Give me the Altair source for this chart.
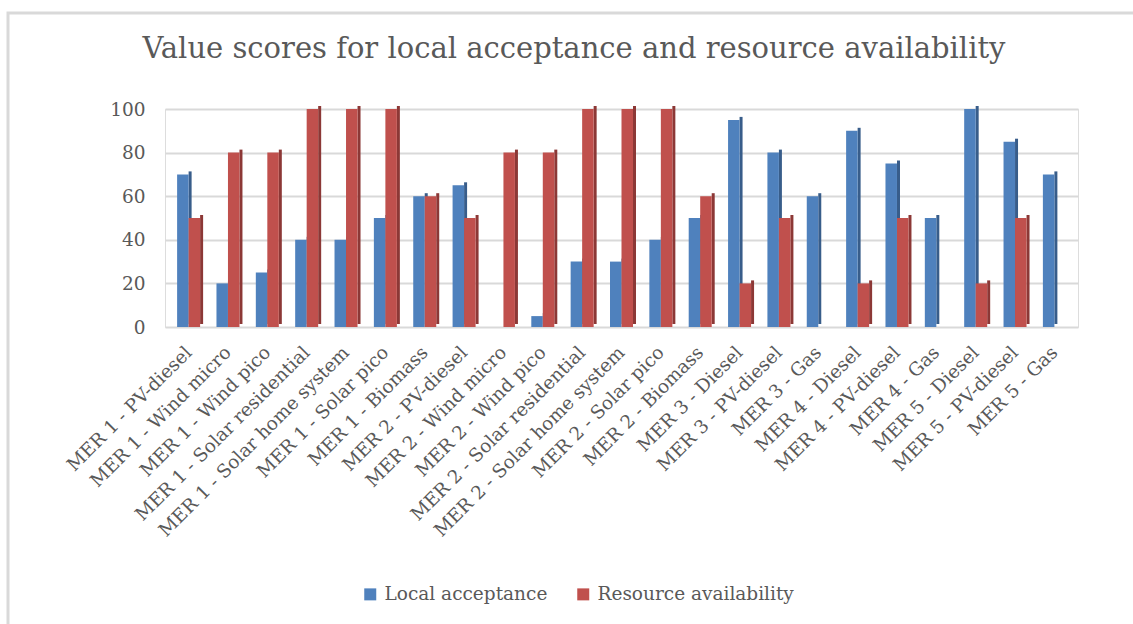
import altair as alt
import pandas as pd

categories = [
    "MER 1 - PV-diesel", "MER 1 - Wind micro", "MER 1 - Wind pico",
    "MER 1 - Solar residential", "MER 1 - Solar home system", "MER 1 - Solar pico",
    "MER 1 - Biomass", "MER 2 - PV-diesel", "MER 2 - Wind micro", "MER 2 - Wind pico",
    "MER 2 - Solar residential", "MER 2 - Solar home system", "MER 2 - Solar pico",
    "MER 2 - Biomass", "MER 3 - Diesel", "MER 3 - PV-diesel", "MER 3 - Gas",
    "MER 4 - Diesel", "MER 4 - PV-diesel", "MER 4 - Gas",
    "MER 5 - Diesel", "MER 5 - PV-diesel", "MER 5 - Gas",
]
local_acceptance = [70, 20, 25, 40, 40, 50, 60, 65, 0, 5, 30, 30, 40, 50, 95, 80, 60, 90, 75, 50, 100, 85, 70]
resource_availability = [50, 80, 80, 100, 100, 100, 60, 50, 80, 80, 100, 100, 100, 60, 20, 50, 0, 20, 50, 0, 20, 50, 0]
series_names = ["Local acceptance", "Resource availability"]
y_ticks = [0, 20, 40, 60, 80, 100]
title_text = "Value scores for local acceptance and resource availability"

rows = []
for c, a, r in zip(categories, local_acceptance, resource_availability):
    rows.append({"category": c, "series": series_names[0], "value": a})
    rows.append({"category": c, "series": series_names[1], "value": r})
df = pd.DataFrame(rows)

BLUE, BLUE_D = "#4F81BD", "#385D8A"
RED, RED_D = "#C0504D", "#8C3836"
FONT = "DejaVu Serif"
TXT = "#595959"
W, H = 913, 218
BW = 11.5
FS = 18.5

x_axis = alt.Axis(labelAngle=315, labelAlign="right", labelBaseline="middle",
                  labelLimit=400, labelOverlap=False, domain=False, ticks=False,
                  labelPadding=22, labelFontSize=FS, labelFont=FONT, labelColor=TXT,
                  title=None, grid=False)
y_axis = alt.Axis(values=y_ticks, grid=True, gridColor="#D9D9D9", gridWidth=2,
                  domain=False, ticks=False, labelPadding=20, labelFontSize=FS,
                  labelFont=FONT, labelColor=TXT, title=None)
xs = alt.Scale(paddingInner=0, paddingOuter=0.1)
ys = alt.Scale(domain=[0, 100])

base = alt.Chart(df)
X = alt.X("category:N", sort=categories, scale=xs, axis=x_axis)
Y = alt.Y("value:Q", scale=ys, axis=y_axis)

color = alt.Color("series:N", scale=alt.Scale(domain=series_names, range=[BLUE, RED]),
                  legend=alt.Legend(title=None, orient="none", direction="horizontal",
                                    legendX=196, legendY=476, symbolType="square",
                                    symbolSize=144, symbolStrokeWidth=0, labelLimit=400,
                                    labelFont=FONT, labelFontSize=FS, labelColor=TXT,
                                    columnPadding=26, labelOffset=5))

blue = base.transform_filter(alt.datum.series == series_names[0])
red = base.transform_filter(alt.datum.series == series_names[1])

blue_side = blue.mark_bar(width=3, xOffset=1.5, yOffset=-3, color=BLUE_D).encode(x=X, y=Y)
blue_front = blue.mark_bar(width=BW, xOffset=-BW / 2).encode(x=X, y=Y, color=color)
red_side = red.mark_bar(width=3, xOffset=BW + 1.5, yOffset=-3, color=RED_D).encode(x=X, y=Y)
red_front = red.mark_bar(width=BW, xOffset=BW / 2).encode(x=X, y=Y, color=color)

one = pd.DataFrame({"k": [0]})
frame = alt.Chart(one).mark_rect(
    fill="transparent", stroke="#D9D9D9", strokeWidth=3).encode(
    x=alt.value(-157), x2=alt.value(W + 60), y=alt.value(-96), y2=alt.value(H + 310))
title = alt.Chart(one).mark_text(
    text=title_text, font=FONT, fontSize=29, color=TXT, align="center",
    baseline="alphabetic").encode(x=alt.value(574 - 165), y=alt.value(58 - 109))

chart = alt.layer(blue_side, blue_front, red_side, red_front, frame, title).properties(
    width=W, height=H,
    autosize=alt.AutoSizeParams(type="none"),
    padding={"left": 165, "top": 109, "right": 55, "bottom": 297},
).configure_view(strokeWidth=0).configure(background="white")

chart.save("out.html", embed_options={"renderer": "svg", "actions": False})
